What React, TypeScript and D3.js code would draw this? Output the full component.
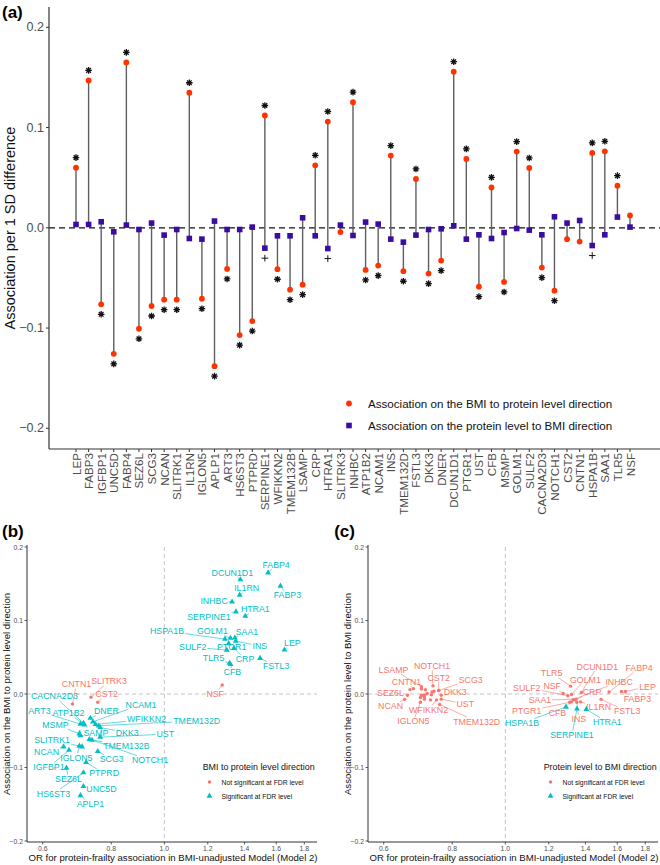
import React from 'react';
import * as d3 from 'd3';

const proteins = ['LEP','FABP3','IGFBP1','UNC5D','FABP4','SEZ6L','SCG3','NCAN','SLITRK1','IL1RN','IGLON5','APLP1','ART3','HS6ST3','PTPRD','SERPINE1','WFIKKN2','TMEM132B','LSAMP','CRP','HTRA1','SLITRK3','INHBC','ATP1B2','NCAM1','INS','TMEM132D','FSTL3','DKK3','DNER','DCUN1D1','PTGR1','UST','CFB','MSMP','GOLM1','SULF2','CACNA2D3','NOTCH1','CST2','CNTN1','HSPA1B','SAA1','TLR5','NSF'];

// association on the BMI -> protein level direction (red)
const bmiToProtein = [0.060,0.147,-0.0763,-0.1257,0.165,-0.1007,-0.078,-0.0717,-0.0717,0.1347,-0.0707,-0.138,-0.041,-0.107,-0.093,0.112,-0.0413,-0.0617,-0.0567,0.0623,0.106,-0.0043,0.1253,-0.042,-0.0377,0.072,-0.0433,0.0487,-0.0457,-0.0327,0.1557,0.0687,-0.0587,0.0403,-0.054,0.076,0.0597,-0.0397,-0.0627,-0.0113,-0.0137,0.0747,0.0763,0.042,0.0123];
// association on the protein level -> BMI direction (blue)
const proteinToBmi = [0.0033,0.0033,0.006,-0.004,0.0027,-0.0017,0.0047,-0.0073,-0.0017,-0.0107,-0.0113,0.0067,-0.0017,-0.0017,0.0007,-0.0203,-0.008,-0.008,0.010,-0.008,-0.0207,0.0027,-0.0077,0.0057,0.0037,-0.0113,-0.0143,-0.0073,-0.0017,-0.001,0.002,-0.0113,-0.007,-0.0107,-0.0047,-0.0007,-0.0023,-0.007,0.011,0.0047,0.0073,-0.0177,-0.007,0.0107,0.0007];
// OR for protein-frailty association (Model 2)
const oddsRatio = [1.656,1.628,0.67,0.712,1.546,0.663,0.756,0.655,0.708,1.372,0.700,0.703,0.703,0.712,0.72,1.351,0.749,0.73,0.703,1.34,1.405,0.735,1.329,0.715,0.741,1.35,0.759,1.495,0.764,0.733,1.376,1.31,0.764,1.32,0.70,1.32,1.30,0.712,0.738,0.756,0.680,1.29,1.345,1.315,1.275];

const nonSignificantBmiToProtein = ['SLITRK3','CST2','CNTN1','NSF'];
const significantProteinToBmi = ['SERPINE1','HTRA1','HSPA1B'];

const yTicksA = [0.2,0.1,0.0,-0.1,-0.2];
const yTicksBC = [0.2,0.1,0.0,-0.1,-0.2];
const xTicksBC = [0.6,0.8,1.0,1.2,1.4,1.6,1.8];

// text-repel label layout (pixel offsets of label centre from its point)
const labelOffsetB: Record<string, [number, number]> = {
  FABP4:[8,-8], DCUN1D1:[-8,-7], IL1RN:[7,-7], FABP3:[7,9], INHBC:[-18,-1], HTRA1:[10,-7], SERPINE1:[-27,5], HSPA1B:[-58,-8], GOLM1:[-18,-7], SAA1:[12,-6], SULF2:[-34,-3], PTGR1:[3,3], INS:[24,5], LEP:[8,-7], TLR5:[-16,-5], CRP:[11,11], FSTL3:[16,8], CFB:[2,8], NSF:[-7,9],
  CNTN1:[4,-20], SLITRK3:[18,-16], CST2:[9,-8], CACNA2D3:[-29,-27], NCAM1:[48,-17], ART3:[-41,-13], ATP1B2:[-16,-12], DNER:[16,-7], WFIKKN2:[51,-5], TMEM132D:[98,-5], MSMP:[-24,-9], LSAMP:[13,-3], DKK3:[27,5], UST:[65,-3], SLITRK1:[-30,-7], TMEM132B:[37,7], NCAN:[-17,5], IGLON5:[-3,12], SCG3:[14,8], NOTCH1:[58,20], IGFBP1:[-20,17], PTPRD:[18,11], SEZ6L:[2,11], HS6ST3:[-30,21], UNC5D:[18,3], APLP1:[10,9],
};
const labelOffsetC: Record<string, [number, number]> = {
  LSAMP:[-28,-17], NOTCH1:[-1,-20], CNTN1:[-7,-7], CST2:[0,-13], SCG3:[32,-11], SEZ6L:[-17,-2], DKK3:[14,-3], NCAN:[-14,7], UST:[24,5], WFIKKN2:[-8,10], IGLON5:[-7,19], TMEM132D:[37,17],
  DCUN1D1:[16,-26], FABP4:[30,-24], TLR5:[-19,-13], GOLM1:[14,-15], INHBC:[46,-18], LEP:[22,-5], SULF2:[-41,-8], NSF:[-11,-7], CRP:[17,-8], SAA1:[-36,1], FABP3:[16,7], IL1RN:[18,5], PTGR1:[-43,9], CFB:[-14,11], FSTL3:[26,12], INS:[2,17], HSPA1B:[-44,16], HTRA1:[21,13], SERPINE1:[-5,26],
};

const FONT = "'Liberation Sans', Arial, Helvetica, sans-serif";
const RED = '#ff3300';
const BLUE = '#3a0ca0';
const PINK = '#F8766D';
const CYAN = '#00BFC4';

let canvasCtx: CanvasRenderingContext2D | null = null;
function textWidth(s: string, fs: number) {
  if (!canvasCtx && typeof document !== 'undefined') canvasCtx = document.createElement('canvas').getContext('2d');
  if (!canvasCtx) return s.length * fs * 0.6;
  canvasCtx.font = `${fs}px "Liberation Sans", Arial, sans-serif`;
  return canvasCtx.measureText(s).width;
}

function starPath(cx: number, cy: number, r: number) {
  const d = r * 0.7071;
  return `M${cx - r},${cy}H${cx + r}M${cx},${cy - r}V${cy + r}M${cx - d},${cy - d}L${cx + d},${cy + d}M${cx - d},${cy + d}L${cx + d},${cy - d}`;
}
function plusPath(cx: number, cy: number, r: number) {
  return `M${cx - r},${cy}H${cx + r}M${cx},${cy - r}V${cy + r}`;
}

function PanelA() {
  const x = d3.scalePoint<string>().domain(proteins).range([76, 630]);
  const y = d3.scaleLinear().domain([-0.2, 0.2]).range([428.3, 27.3]);
  const axisX = 49, axisY = 449;
  return (
    <g>
      <text x={2} y={18} fontSize={17} fontWeight="bold" fill="#000">(a)</text>
      <line x1={axisX} x2={660} y1={y(0)} y2={y(0)} stroke="#111" strokeWidth={1.3} strokeDasharray="6,4" />
      <line x1={axisX} x2={axisX} y1={7} y2={axisY} stroke="#333" strokeWidth={1.2} />
      <line x1={axisX} x2={660} y1={axisY} y2={axisY} stroke="#333" strokeWidth={1.2} />
      {yTicksA.map(t => (
        <g key={t}>
          <line x1={axisX - 3} x2={axisX} y1={y(t)} y2={y(t)} stroke="#333" />
          <text x={axisX - 5} y={y(t)} textAnchor="end" dominantBaseline="central" fontSize={12.5} fill="#4d4d4d">{d3.format('.1f')(t)}</text>
        </g>
      ))}
      <text transform={`translate(10,228) rotate(-90)`} textAnchor="middle" dominantBaseline="central" fontSize={14.5} fill="#111">Association per 1 SD difference</text>
      {proteins.map(p => (
        <g key={p}>
          <line x1={x(p)} x2={x(p)} y1={axisY} y2={axisY + 3} stroke="#333" />
          <text transform={`translate(${x(p)},${axisY + 4}) rotate(-90)`} textAnchor="end" dominantBaseline="central" fontSize={11.6} fill="#4d4d4d">{p}</text>
        </g>
      ))}
      {proteins.map((p, i) => (
        <line key={p} x1={x(p)} x2={x(p)} y1={y(bmiToProtein[i])} y2={y(proteinToBmi[i])} stroke="#5e5e5e" strokeWidth={1.4} />
      ))}
      {proteins.map((p, i) => (
        <rect key={p} x={x(p)! - 2.8} y={y(proteinToBmi[i]) - 2.8} width={5.6} height={5.6} fill={BLUE} />
      ))}
      {proteins.map((p, i) => (
        <circle key={p} cx={x(p)} cy={y(bmiToProtein[i])} r={2.9} fill={RED} />
      ))}
      {proteins.map((p, i) => {
        if (nonSignificantBmiToProtein.includes(p)) return null;
        const v = bmiToProtein[i];
        const sy = y(v + (v >= 0 ? 0.01 : -0.01));
        return <path key={p} d={starPath(x(p)!, sy, 3.3)} stroke="#111" strokeWidth={1.3} fill="none" />;
      })}
      {proteins.map((p, i) => {
        if (!significantProteinToBmi.includes(p)) return null;
        const v = proteinToBmi[i];
        const sy = y(v + (v >= 0 ? 0.01 : -0.01));
        return <path key={p} d={plusPath(x(p)!, sy, 3.3)} stroke="#111" strokeWidth={1} fill="none" />;
      })}
      <circle cx={349} cy={403.5} r={2.9} fill={RED} />
      <text x={368} y={403.5} dominantBaseline="central" fontSize={11.6} fill="#111">Association on the BMI to protein level direction</text>
      <rect x={346.2} y={422.7} width={5.6} height={5.6} fill={BLUE} />
      <text x={368} y={425.5} dominantBaseline="central" fontSize={11.6} fill="#111">Association on the protein level to BMI direction</text>
    </g>
  );
}

type ScatterProps = {
  ox: number; label: string; values: number[]; sigNames: string[]; sigIsDefaultNot: boolean;
  offsets: Record<string, [number, number]>; yTitle: string; legendTitle: string;
};

function Scatter({ ox, label, values, sigNames, sigIsDefaultNot, offsets, yTitle, legendTitle }: ScatterProps) {
  const x = d3.scaleLog().domain([0.6, 1.8]).range([42.7 + ox, 304.3 + ox]);
  const y = d3.scaleLinear().domain([-0.2, 0.2]).range([841, 547]);
  const left = 27 + ox, right = 317 + ox, top = 545, bottom = 842;
  const tri = d3.symbol(d3.symbolTriangle, 15)();
  const fsLab = 8.8;
  const isSig = (p: string) => (sigIsDefaultNot ? sigNames.includes(p) : !sigNames.includes(p));

  const pts = proteins.map((p, i) => ({ p, px: x(oddsRatio[i]), py: y(values[i]), sig: isSig(p) }));

  const labels = pts.filter(d => offsets[d.p]).map(d => {
    const [dx, dy] = offsets[d.p];
    const cx = d.px + dx, cy = d.py + dy;
    const w = textWidth(d.p, fsLab), h = fsLab * 0.8;
    const x0 = cx - w / 2 - 1, x1 = cx + w / 2 + 1, y0 = cy - h / 2 - 1, y1 = cy + h / 2 + 1;
    let seg: null | [number, number, number, number] = null;
    const inside = d.px >= x0 && d.px <= x1 && d.py >= y0 && d.py <= y1;
    if (!inside) {
      const vx = cx - d.px, vy = cy - d.py;
      let t = 1;
      if (vx !== 0) { const tx = ((vx > 0 ? x0 : x1) - d.px) / vx; if (tx > 0 && tx < t) { const yy = d.py + tx * vy; if (yy >= y0 - 0.01 && yy <= y1 + 0.01) t = tx; } }
      if (vy !== 0) { const ty = ((vy > 0 ? y0 : y1) - d.py) / vy; if (ty > 0 && ty < t) { const xx = d.px + ty * vx; if (xx >= x0 - 0.01 && xx <= x1 + 0.01) t = ty; } }
      const ex = d.px + t * vx, ey = d.py + t * vy;
      if (Math.hypot(ex - d.px, ey - d.py) > 3) seg = [d.px, d.py, ex, ey];
    }
    return { ...d, cx, cy, seg };
  });

  return (
    <g>
      <text x={2 + ox * 0.974} y={537} fontSize={17} fontWeight="bold" fill="#000">{label}</text>
      <line x1={left} x2={right} y1={y(0)} y2={y(0)} stroke="#bdbdbd" strokeWidth={0.9} strokeDasharray="4,3" />
      <line x1={x(1)} x2={x(1)} y1={top + 2} y2={bottom} stroke="#bdbdbd" strokeWidth={0.9} strokeDasharray="4,3" />
      <line x1={left} x2={left} y1={top} y2={bottom} stroke="#333" strokeWidth={1} />
      <line x1={left} x2={right} y1={bottom} y2={bottom} stroke="#333" strokeWidth={1} />
      {yTicksBC.map(t => (
        <g key={t}>
          <line x1={left - 2.5} x2={left} y1={y(t)} y2={y(t)} stroke="#333" strokeWidth={0.8} />
          <text x={left - 4} y={y(t)} textAnchor="end" dominantBaseline="central" fontSize={6.8} fill="#4d4d4d">{d3.format('.1f')(t)}</text>
        </g>
      ))}
      {xTicksBC.map(t => (
        <g key={t}>
          <line x1={x(t)} x2={x(t)} y1={bottom} y2={bottom + 2.5} stroke="#333" strokeWidth={0.8} />
          <text x={x(t)} y={bottom + 6} textAnchor="middle" dominantBaseline="central" fontSize={6.8} fill="#4d4d4d">{d3.format('.1f')(t)}</text>
        </g>
      ))}
      <text x={(left + right) / 2 + 1} y={857} textAnchor="middle" dominantBaseline="central" fontSize={9.6} fill="#111">OR for protein-frailty association in BMI-unadjusted Model (Model 2)</text>
      <text transform={`translate(${6 + ox},${y(0)}) rotate(-90)`} textAnchor="middle" dominantBaseline="central" fontSize={9.6} fill="#111">{yTitle}</text>
      {labels.map(l => l.seg ? (
        <line key={l.p} x1={l.seg[0]} y1={l.seg[1]} x2={l.seg[2]} y2={l.seg[3]} stroke={l.sig ? CYAN : PINK} strokeWidth={0.6} />
      ) : null)}
      {pts.map(d => d.sig ? (
        <path key={d.p} d={tri!} transform={`translate(${d.px},${d.py})`} fill={CYAN} />
      ) : (
        <circle key={d.p} cx={d.px} cy={d.py} r={1.7} fill={PINK} />
      ))}
      {labels.map(l => (
        <text key={l.p} x={l.cx} y={l.cy} textAnchor="middle" dominantBaseline="central" fontSize={fsLab} fill={l.sig ? CYAN : PINK}>{l.p}</text>
      ))}
      <text x={202.7 + ox} y={767} dominantBaseline="central" fontSize={8.9} fill="#111">{legendTitle}</text>
      <circle cx={209.5 + ox} cy={782} r={1.7} fill={PINK} />
      <text x={221.5 + ox} y={782} dominantBaseline="central" fontSize={6.8} fill="#111">Not significant at FDR level</text>
      <path d={tri!} transform={`translate(${209.5 + ox},${796})`} fill={CYAN} />
      <text x={221.5 + ox} y={796} dominantBaseline="central" fontSize={6.8} fill="#111">Significant at FDR level</text>
    </g>
  );
}

export default function App() {
  return (
    <svg width={660} height={865} style={{ position: 'absolute', left: 0, top: 0, background: '#fff', fontFamily: FONT }}>
      <rect x={0} y={0} width={660} height={865} fill="#fff" />
      <PanelA />
      <Scatter ox={0} label="(b)" values={bmiToProtein} sigNames={nonSignificantBmiToProtein} sigIsDefaultNot={false}
        offsets={labelOffsetB} yTitle="Association on the BMI to protein level direction" legendTitle="BMI to protein level direction" />
      <Scatter ox={341} label="(c)" values={proteinToBmi} sigNames={significantProteinToBmi} sigIsDefaultNot={true}
        offsets={labelOffsetC} yTitle="Association on the protein level to BMI direction" legendTitle="Protein level to BMI direction" />
    </svg>
  );
}
